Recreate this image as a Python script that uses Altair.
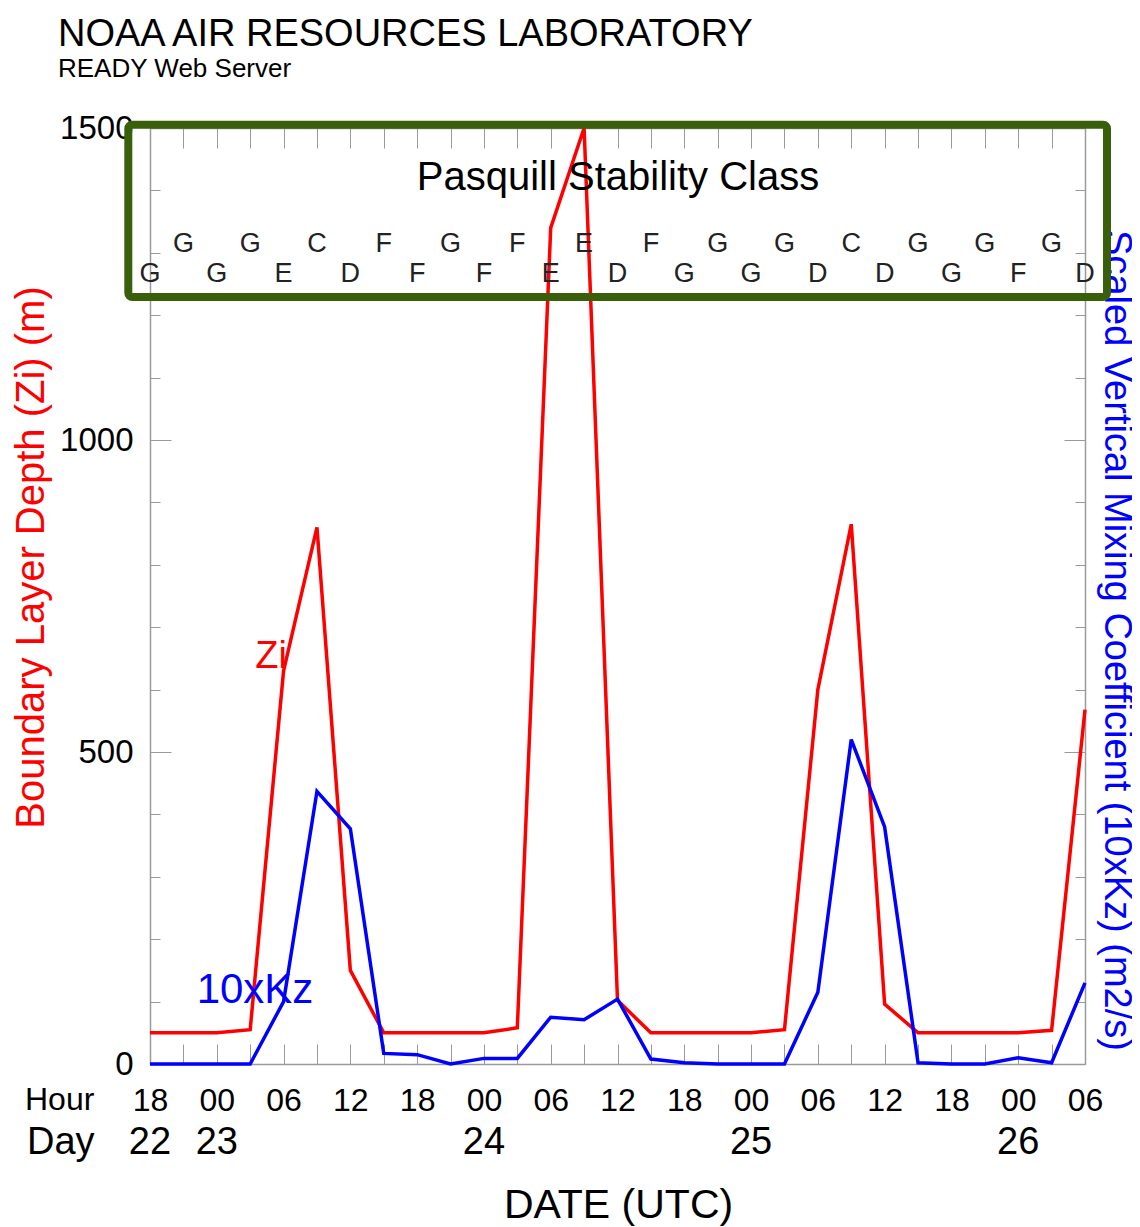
import altair as alt
import pandas as pd

# ---------------- data ----------------
hours = list(range(0, 85, 3))  # hours since 22/18 UTC, 3-hourly
zi = [50, 50, 50, 55, 630, 860, 150, 50, 50, 50, 50, 58, 1340, 1500, 102,
      50, 50, 50, 50, 55, 600, 865, 96, 50, 50, 50, 50, 54, 568]
kz10 = [0, 0, 0, 0, 100, 437, 377, 17, 15, 0, 9, 9, 75, 71, 104,
        8, 2, 0, 0, 0, 115, 520, 380, 2, 0, 0, 10, 2, 130]
stability = ["G", "G", "G", "G", "E", "C", "D", "F", "F", "G", "F", "F", "E", "E", "D",
             "F", "G", "G", "G", "G", "D", "C", "D", "G", "G", "G", "F", "G", "D"]

hour_ticks = list(range(0, 85, 6))
hour_labels = ["18", "00", "06", "12", "18", "00", "06", "12", "18", "00", "06", "12", "18", "00", "06"]
day_hours = [0, 6, 30, 54, 78]
day_labels = ["22", "23", "24", "25", "26"]
y_labels = [0, 500, 1000, 1500]
minor_y = list(range(0, 1501, 100))

df = pd.DataFrame({"h": hours, "zi": zi, "kz": kz10, "cls": stability,
                   "i": list(range(len(hours)))})
df_day = pd.DataFrame({"h": day_hours, "lbl": day_labels})
one = pd.DataFrame({"a": [0]})

FONT = "Liberation Sans"
GRAY = "#9a9a9a"
W, H = 935, 936

xs = alt.Scale(domain=[0, 84], nice=False, zero=False)
ys = alt.Scale(domain=[0, 1500], nice=False)

label_expr = "[" + ",".join("'%s'" % s for s in hour_labels) + "][round(datum.value/6)]"

base = alt.Chart(df)

# Red Zi line with main bottom and left axes
red = base.mark_line(color="#ff0000", strokeWidth=3.5).encode(
    x=alt.X("h:Q", scale=xs, axis=alt.Axis(
        orient="bottom", values=hour_ticks, labelExpr=label_expr, ticks=False,
        domain=True, domainColor=GRAY, domainWidth=1.5, grid=False,
        labelFont=FONT, labelFontSize=32, labelColor="#000", labelPadding=36,
        labelBaseline="middle", labelFlush=False, labelOverlap=False,
        title="DATE (UTC)", titleFont=FONT, titleFontSize=41, titleFontWeight="normal",
        titleColor="#000", titleX=468, titleY=141, titleAlign="center",
        titleBaseline="middle")),
    y=alt.Y("zi:Q", scale=ys, axis=alt.Axis(
        orient="left", values=y_labels, format="d", ticks=False, domain=True,
        domainColor=GRAY, domainWidth=1.5, grid=False, labelFont=FONT,
        labelFontSize=33, labelColor="#000", labelPadding=17, labelFlush=False,
        labelOverlap=False,
        title="Boundary Layer Depth (Zi) (m)", titleColor="#ff0000", titleFont=FONT,
        titleFontSize=40, titleFontWeight="normal", titleX=-119, titleY=429,
        titleAngle=270, titleAlign="center", titleBaseline="middle")),
)

# Blue 10xKz line with top inward ticks and right axis
blue = base.mark_line(color="#0000ff", strokeWidth=3.5).encode(
    x=alt.X("h:Q", scale=xs, axis=alt.Axis(
        orient="top", values=hours, offset=-20, tickSize=20, tickColor=GRAY,
        labels=False, domain=False, grid=False, title=None)),
    y=alt.Y("kz:Q", scale=ys, axis=alt.Axis(
        orient="right", values=y_labels, ticks=False, labels=False, domain=True,
        domainColor=GRAY, domainWidth=1.5, grid=False,
        title="Scaled Vertical Mixing Coefficient (10xKz) (m2/s)", titleColor="#0000ff",
        titleFont=FONT, titleFontSize=38, titleFontWeight="normal", titleX=30,
        titleY=512, titleAngle=90, titleAlign="center", titleBaseline="middle")),
)

ghost = base.mark_point(opacity=0)

ax1 = ghost.encode(
    x=alt.X("h:Q", scale=xs, axis=alt.Axis(
        orient="bottom", values=hours, offset=-20, tickSize=20, tickColor=GRAY,
        labels=False, domain=False, grid=False, title=None)),
    y=alt.Y("zi:Q", scale=ys, axis=alt.Axis(
        orient="left", values=minor_y, offset=-10, tickSize=10, tickColor=GRAY,
        labels=False, domain=False, grid=False, title=None)),
)
ax2 = ghost.encode(
    x=alt.X("h:Q", scale=xs, axis=alt.Axis(
        orient="top", values=hours, ticks=False, labels=False, domain=True,
        domainColor=GRAY, domainWidth=1.5, grid=False, title=None)),
    y=alt.Y("zi:Q", scale=ys, axis=alt.Axis(
        orient="left", values=y_labels, offset=-21, tickSize=21, tickColor=GRAY,
        labels=False, domain=False, grid=False, title=None)),
)
ax3 = ghost.encode(
    x=alt.X("h:Q", scale=xs, axis=None),
    y=alt.Y("zi:Q", scale=ys, axis=alt.Axis(
        orient="right", values=minor_y, offset=-10, tickSize=10, tickColor=GRAY,
        labels=False, domain=False, grid=False, title=None)),
)
ax4 = ghost.encode(
    x=alt.X("h:Q", scale=xs, axis=None),
    y=alt.Y("zi:Q", scale=ys, axis=alt.Axis(
        orient="right", values=y_labels, offset=-21, tickSize=21, tickColor=GRAY,
        labels=False, domain=False, grid=False, title=None)),
)

# Pasquill stability class letters (alternating rows)
stab = base.transform_calculate(
    ty="datum.i % 2 == 0 ? 1266 : 1314"
).mark_text(font=FONT, fontSize=27, color="#222", baseline="middle").encode(
    x=alt.X("h:Q", scale=xs, axis=None),
    y=alt.Y("ty:Q", scale=ys, axis=None),
    text="cls:N",
)

days = alt.Chart(df_day).mark_text(font=FONT, fontSize=38, color="#000",
                                   baseline="middle").encode(
    x=alt.X("h:Q", scale=xs, axis=None),
    y=alt.value(1015),
    text="lbl:N",
)


def label(txt, x, y, size, color="#000", align="center"):
    return alt.Chart(one).mark_text(text=txt, font=FONT, fontSize=size, color=color,
                                    align=align, baseline="middle").encode(
        x=alt.value(x), y=alt.value(y))


texts = [
    label("NOAA AIR RESOURCES LABORATORY", -92, -93, 38, align="left"),
    label("READY Web Server", -92, -59, 26, align="left"),
    label("Pasquill Stability Class", 468, 50, 40),
    label("Zi", 121, 529, 38, color="#ff0000"),
    label("10xKz", 105, 862, 42, color="#0000ff"),
    label("Hour", -125, 972, 32, align="left"),
    label("Day", -123, 1015, 38, align="left"),
]

box = alt.Chart(one).mark_rect(fillOpacity=0, stroke="#3a5f0b", strokeWidth=8,
                               cornerRadius=4).encode(
    x=alt.value(-21.7), x2=alt.value(957), y=alt.value(-3.3), y2=alt.value(169))

chart = alt.layer(
    ax1, ax2, ax3, ax4, red, blue, stab, days, *texts, box
).resolve_axis(
    x="independent", y="independent"
).properties(
    width=W, height=H,
    autosize=alt.AutoSizeParams(type="none"),
    padding={"left": 142, "top": 120, "right": 47, "bottom": 163},
).configure_view(stroke=None).configure(background="white")

chart.save("out.html", embed_options={"renderer": "svg", "actions": False})
